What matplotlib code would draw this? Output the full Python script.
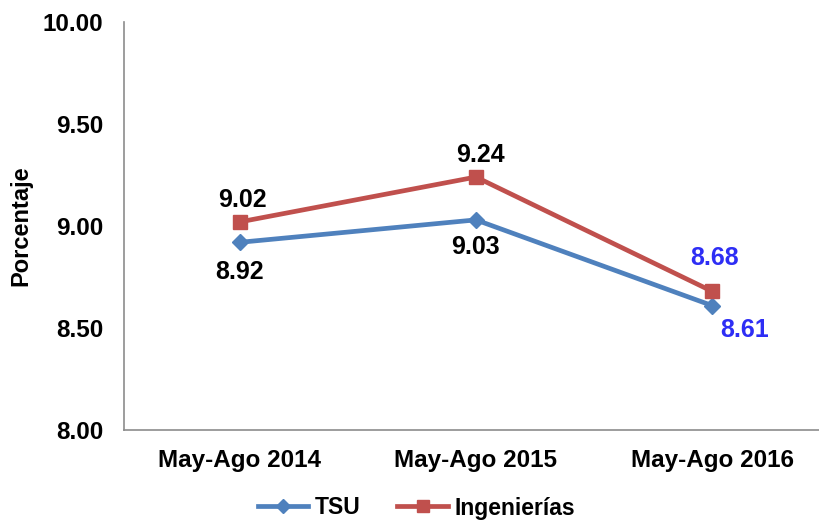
import matplotlib
matplotlib.use("Agg")
import matplotlib.pyplot as plt

categories = ["May-Ago 2014", "May-Ago 2015", "May-Ago 2016"]
tsu = [8.92, 9.03, 8.61]
ing = [9.02, 9.24, 8.68]
yticks = [8.00, 8.50, 9.00, 9.50, 10.00]

plt.rcParams['font.family'] = ['Liberation Sans', 'DejaVu Sans']
plt.rcParams['font.weight'] = 'bold'

fig = plt.figure(figsize=(8.2, 5.23), dpi=100)
ax = fig.add_axes([124/820, (523-430)/523, 1 - 124/820, (430-22)/523])

x = list(range(len(categories)))
blue = '#4F81BD'
red = '#C0504D'
ax.plot(x, tsu, color=blue, lw=3.4, marker='D', ms=8.5, label='TSU', clip_on=False)
ax.plot(x, ing, color=red, lw=3.4, marker='s', ms=10.5, label='Ingenierías', clip_on=False)

ax.set_xlim(-0.49, 2.457)
ax.set_ylim(8.0, 10.0)
ax.set_yticks(yticks)
ax.set_yticklabels([f"{v:.2f}" for v in yticks])
ax.set_xticks(x)
ax.set_xticklabels(categories)
ax.tick_params(axis='y', length=0, labelsize=17.5, pad=15)
ax.tick_params(axis='x', length=0, labelsize=17.5, pad=14)
for lab in ax.get_xticklabels() + ax.get_yticklabels():
    lab.set_fontweight('bold')

for s in ['top', 'right']:
    ax.spines[s].set_visible(False)
for s in ['left', 'bottom']:
    ax.spines[s].set_color('#8C8C8C')
    ax.spines[s].set_linewidth(1.2)

ax.set_ylabel('Porcentaje', fontsize=17, fontweight='bold', labelpad=7)

lab_blue = '#2E2EF5'
offsets_ing = [(3, 22), (5, 22), (2, 33)]
offsets_tsu = [(0, -30), (0, -27), (33, -24)]
colors = ['black', 'black', lab_blue]
for i in x:
    ax.annotate(f"{ing[i]:.2f}", (x[i], ing[i]), xytext=offsets_ing[i], textcoords='offset pixels',
                ha='center', va='center', fontsize=18, fontweight='bold', color=colors[i])
    ax.annotate(f"{tsu[i]:.2f}", (x[i], tsu[i]), xytext=offsets_tsu[i], textcoords='offset pixels',
                ha='center', va='center', fontsize=18, fontweight='bold', color=colors[i])

leg = fig.legend(loc='center', bbox_to_anchor=(0.508, (523-508)/523), ncol=2, frameon=False,
                 fontsize=16.5, handlelength=2.2, columnspacing=1.6, handletextpad=0.3,
                 markerscale=0.85)
for t in leg.get_texts():
    t.set_fontweight('bold')

fig.savefig('out.png', dpi=100)
